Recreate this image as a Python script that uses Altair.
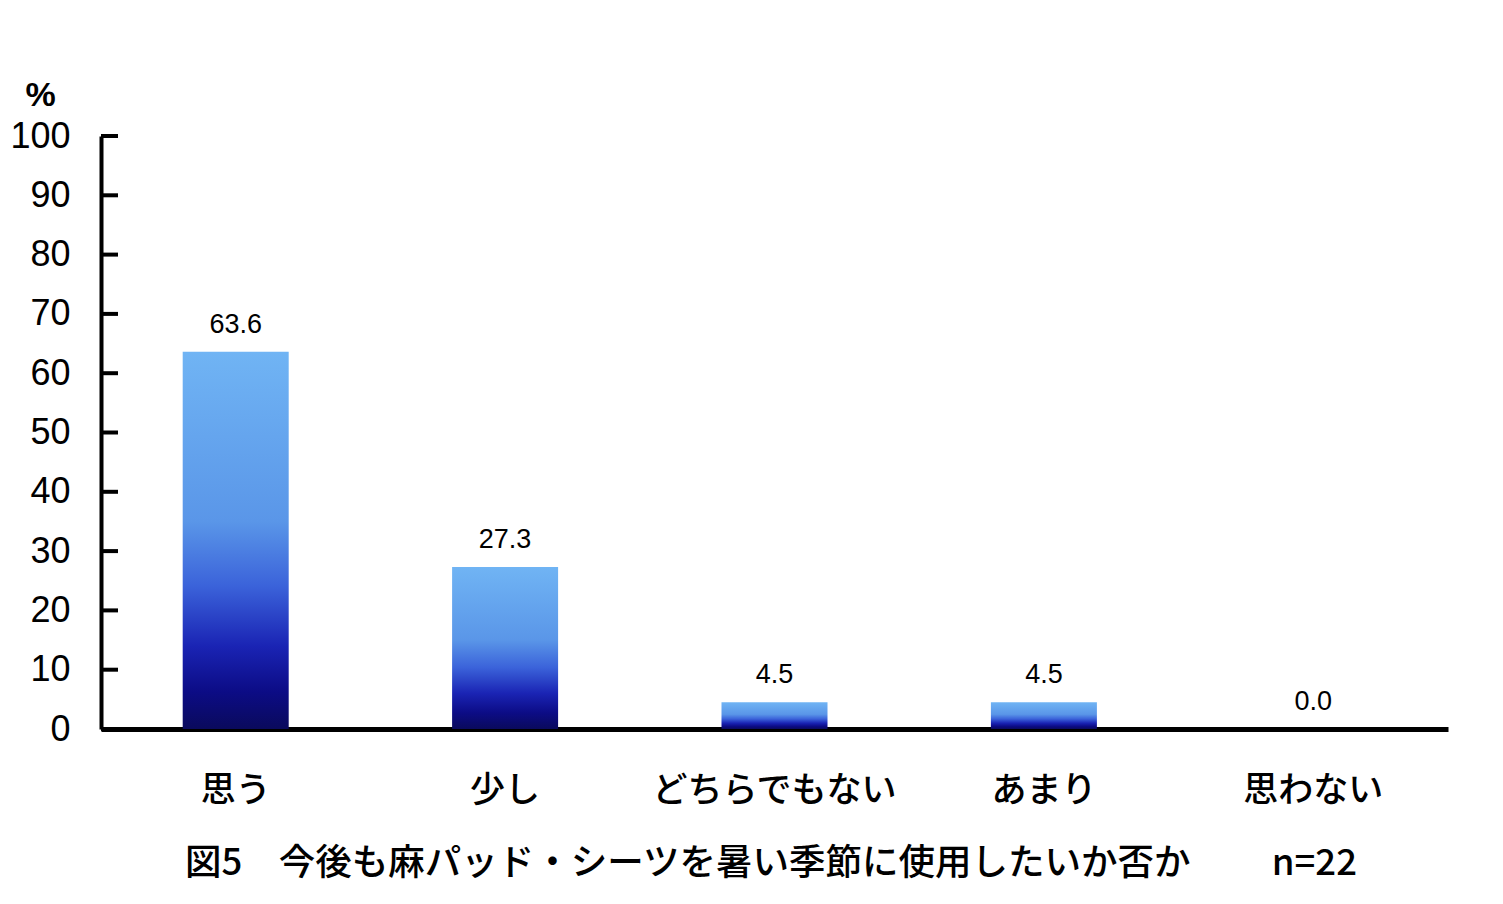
import altair as alt
import pandas as pd

categories = ["思う", "少し", "どちらでもない", "あまり", "思わない"]
values = [63.6, 27.3, 4.5, 4.5, 0.0]
value_labels = ["63.6", "27.3", "4.5", "4.5", "0.0"]
y_ticks = [0, 10, 20, 30, 40, 50, 60, 70, 80, 90, 100]
title_text = "図5　今後も麻パッド・シーツを暑い季節に使用したいか否か　　 n=22"

df = pd.DataFrame({"cat": categories, "val": values, "lab": value_labels})
tick_df = pd.DataFrame({"t": y_ticks})

W, H = 1347, 593

x_enc = alt.X("cat:N", sort=categories,
              scale=alt.Scale(paddingInner=0, paddingOuter=0),
              axis=alt.Axis(title=None, labelAngle=0, ticks=False,
                            domainColor="black", domainWidth=5,
                            labelFont="Noto Sans CJK JP", labelFontSize=35,
                            labelFontWeight=500, labelColor="black",
                            labelBaseline="top", labelPadding=44, labelLimit=0))
y_scale = alt.Scale(domain=[0, 100], nice=False, zero=True)
y_enc = alt.Y("val:Q", scale=y_scale,
              axis=alt.Axis(values=y_ticks, ticks=False, grid=False,
                            domainColor="black", domainWidth=4,
                            labelFont="Liberation Sans", labelFontSize=36,
                            labelColor="black", labelPadding=31,
                            labelBaseline="middle",
                            title="%", titleAngle=0, titleFont="Liberation Sans",
                            titleFontSize=34, titleFontWeight="bold",
                            titleX=-61, titleY=-24, titleAlign="center",
                            titleBaseline="bottom", titleColor="black"))

grad = alt.LinearGradient(
    gradient="linear", x1=0, x2=0, y1=0, y2=1,
    stops=[alt.GradientStop(offset=0, color="#70b4f4"),
           alt.GradientStop(offset=0.45, color="#5a96e8"),
           alt.GradientStop(offset=0.62, color="#3b63da"),
           alt.GradientStop(offset=0.78, color="#1a24b4"),
           alt.GradientStop(offset=0.9, color="#0c0c86"),
           alt.GradientStop(offset=1, color="#0a0a5c")])

bars = alt.Chart(df).mark_bar(color=grad, size=106).encode(x=x_enc, y=y_enc)

labels = alt.Chart(df).mark_text(
    font="Liberation Sans", fontSize=27, color="black", baseline="alphabetic",
    dy=-19).encode(x=alt.X("cat:N", sort=categories), y=alt.Y("val:Q"), text="lab:N")

ticks = alt.Chart(tick_df).mark_rule(color="black", strokeWidth=4).encode(
    y=alt.Y("t:Q", scale=y_scale), x=alt.value(0), x2=alt.value(17))

chart = alt.layer(bars, ticks, labels).properties(
    width=W, height=H,
    background="white",
    title=alt.TitleParams(text=title_text, orient="bottom", anchor="start",
                          frame="group", dx=84, offset=38, font="Noto Sans CJK JP",
                          fontSize=36.5, fontWeight=500, color="black"),
    autosize=alt.AutoSizeParams(type="none"),
    padding={"left": 93, "top": 128, "right": 47, "bottom": 165},
).configure_view(strokeWidth=0, stroke=None)

chart.save("out.html", embed_options={"renderer": "svg", "actions": False})
